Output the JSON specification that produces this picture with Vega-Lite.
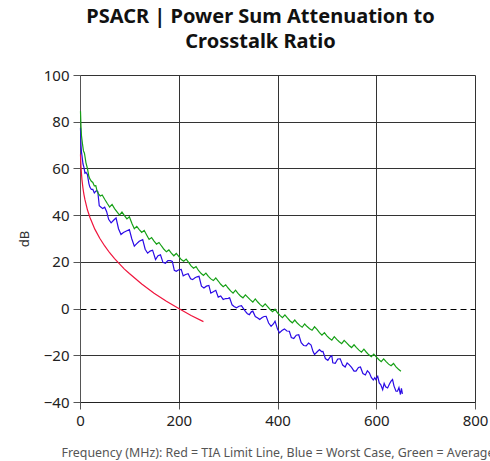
{
  "$schema": "https://vega.github.io/schema/vega-lite/v6.json",
  "width": 395,
  "height": 327,
  "autosize": {"type": "none"},
  "padding": {"left": 80, "top": 75, "right": 15, "bottom": 59},
  "background": "white",
  "config": {
    "view": {"stroke": null},
    "font": "Noto Sans"
  },
  "title": {
    "text": ["PSACR | Power Sum Attenuation to", "Crosstalk Ratio"],
    "font": "Noto Sans",
    "fontSize": 20,
    "fontWeight": "bold",
    "color": "#111",
    "anchor": "middle",
    "frame": "group",
    "dx": -17,
    "offset": 16,
    "lineHeight": 25
  },
  "datasets": {
    "red": [
      {"freq": 1, "db": 66}, {"freq": 2, "db": 60.8}, {"freq": 3, "db": 57.7}, {"freq": 4, "db": 55.1},
      {"freq": 6, "db": 51.5}, {"freq": 8, "db": 48.8}, {"freq": 10, "db": 46.6}, {"freq": 15, "db": 42.3},
      {"freq": 20, "db": 39.1}, {"freq": 30, "db": 34.0}, {"freq": 40, "db": 30.1}, {"freq": 50, "db": 26.8},
      {"freq": 60, "db": 23.9}, {"freq": 70, "db": 21.4}, {"freq": 80, "db": 19.1}, {"freq": 90, "db": 16.9},
      {"freq": 100, "db": 15.0}, {"freq": 125, "db": 10.5}, {"freq": 150, "db": 6.6}, {"freq": 175, "db": 3.1},
      {"freq": 200, "db": 0}, {"freq": 225, "db": -3.0}, {"freq": 250, "db": -5.6}
    ],
    "blue": [
      {"freq": 1, "db": 77.3}, {"freq": 2, "db": 70}, {"freq": 3, "db": 67}, {"freq": 4, "db": 65.5},
      {"freq": 6, "db": 62}, {"freq": 8, "db": 60.5}, {"freq": 10, "db": 58}, {"freq": 12, "db": 58.3},
      {"freq": 15, "db": 57.4}, {"freq": 18, "db": 53.5}, {"freq": 20, "db": 52}, {"freq": 23, "db": 51},
      {"freq": 26, "db": 51}, {"freq": 29, "db": 49.5}, {"freq": 33, "db": 50.5}, {"freq": 36, "db": 50.2},
      {"freq": 39, "db": 44}, {"freq": 42, "db": 43.5}, {"freq": 46, "db": 42.8}, {"freq": 50, "db": 43.4},
      {"freq": 54, "db": 41.5}, {"freq": 58, "db": 38.2}, {"freq": 63, "db": 36.7}, {"freq": 68, "db": 37.8},
      {"freq": 73, "db": 38.8}, {"freq": 78, "db": 34.2}, {"freq": 83, "db": 31.7}, {"freq": 88, "db": 32.6},
      {"freq": 94, "db": 33.2}, {"freq": 100, "db": 33.8}, {"freq": 105, "db": 29.8}, {"freq": 110, "db": 26.7},
      {"freq": 115, "db": 27.8}, {"freq": 120, "db": 28.8}, {"freq": 127, "db": 29.5}, {"freq": 132, "db": 25.4},
      {"freq": 137, "db": 23.7}, {"freq": 142, "db": 24.6}, {"freq": 147, "db": 25.0}, {"freq": 153, "db": 21.0},
      {"freq": 158, "db": 22.6}, {"freq": 163, "db": 23.0}, {"freq": 168, "db": 19.8}, {"freq": 173, "db": 19.4},
      {"freq": 178, "db": 20.5}, {"freq": 183, "db": 20.5}, {"freq": 187, "db": 20.2}, {"freq": 191, "db": 16.4},
      {"freq": 195, "db": 16.0}, {"freq": 200, "db": 16.6}, {"freq": 205, "db": 16.8}, {"freq": 209, "db": 14.0},
      {"freq": 214, "db": 14.6}, {"freq": 219, "db": 14.9}, {"freq": 224, "db": 12.8}, {"freq": 228, "db": 12.4},
      {"freq": 233, "db": 13.2}, {"freq": 237, "db": 13.6}, {"freq": 241, "db": 13.8}, {"freq": 246, "db": 9.6},
      {"freq": 251, "db": 8.8}, {"freq": 256, "db": 9.6}, {"freq": 261, "db": 9.9}, {"freq": 265, "db": 6.6},
      {"freq": 270, "db": 7.2}, {"freq": 275, "db": 7.8}, {"freq": 280, "db": 4.9}, {"freq": 285, "db": 5.4},
      {"freq": 290, "db": 3.9}, {"freq": 295, "db": 4.3}, {"freq": 300, "db": 4.4}, {"freq": 303, "db": 4.6},
      {"freq": 308, "db": 1.6}, {"freq": 312, "db": 0.9}, {"freq": 317, "db": 0.3}, {"freq": 322, "db": 1.0},
      {"freq": 327, "db": 1.2}, {"freq": 330, "db": 0.3}, {"freq": 335, "db": -1.2}, {"freq": 339, "db": -2.2},
      {"freq": 343, "db": -2.6}, {"freq": 347, "db": -1.4}, {"freq": 350, "db": -1.1}, {"freq": 355, "db": -3.4},
      {"freq": 360, "db": -4.0}, {"freq": 364, "db": -4.7}, {"freq": 369, "db": -3.8}, {"freq": 373, "db": -3.4},
      {"freq": 377, "db": -3.3}, {"freq": 382, "db": -6.2}, {"freq": 387, "db": -7.6}, {"freq": 392, "db": -6.5},
      {"freq": 395, "db": -5.4}, {"freq": 400, "db": -8.8}, {"freq": 404, "db": -10.4}, {"freq": 409, "db": -9.4},
      {"freq": 414, "db": -8.7}, {"freq": 419, "db": -9.6}, {"freq": 424, "db": -9.7}, {"freq": 428, "db": -12.4},
      {"freq": 433, "db": -12.8}, {"freq": 438, "db": -11.4}, {"freq": 443, "db": -11.2}, {"freq": 448, "db": -14.6},
      {"freq": 453, "db": -15.8}, {"freq": 458, "db": -16.0}, {"freq": 463, "db": -14.8}, {"freq": 468, "db": -15.6},
      {"freq": 472, "db": -18.4}, {"freq": 475, "db": -19.7}, {"freq": 480, "db": -18.6}, {"freq": 485, "db": -17.6},
      {"freq": 489, "db": -18.4}, {"freq": 492, "db": -18.3}, {"freq": 497, "db": -21.4}, {"freq": 502, "db": -22.2},
      {"freq": 507, "db": -20.6}, {"freq": 510, "db": -20.2}, {"freq": 512, "db": -23.2}, {"freq": 517, "db": -23.4},
      {"freq": 522, "db": -21.6}, {"freq": 527, "db": -21.5}, {"freq": 532, "db": -24.2}, {"freq": 537, "db": -25.0},
      {"freq": 541, "db": -23.3}, {"freq": 545, "db": -24.0}, {"freq": 550, "db": -25.2}, {"freq": 555, "db": -26.8},
      {"freq": 559, "db": -26.8}, {"freq": 564, "db": -25.2}, {"freq": 568, "db": -25.0}, {"freq": 573, "db": -27.8},
      {"freq": 578, "db": -28.4}, {"freq": 582, "db": -26.6}, {"freq": 586, "db": -27.5}, {"freq": 590, "db": -29.5},
      {"freq": 594, "db": -30.6}, {"freq": 597, "db": -29.6}, {"freq": 599, "db": -30.4}, {"freq": 603, "db": -29.0},
      {"freq": 606, "db": -31.8}, {"freq": 609, "db": -32.5}, {"freq": 613, "db": -34.7}, {"freq": 616, "db": -32.0},
      {"freq": 619, "db": -33.5}, {"freq": 623, "db": -34.0}, {"freq": 627, "db": -32.2}, {"freq": 630, "db": -31.1},
      {"freq": 633, "db": -30.4}, {"freq": 636, "db": -33.2}, {"freq": 640, "db": -35.4}, {"freq": 643, "db": -35.4},
      {"freq": 646, "db": -33.8}, {"freq": 649, "db": -36.8}, {"freq": 651, "db": -34.2}, {"freq": 653, "db": -36.5}
    ],
    "green": [
      {"freq": 1, "db": 84.5}, {"freq": 2, "db": 78}, {"freq": 3, "db": 74}, {"freq": 5, "db": 70.5},
      {"freq": 7, "db": 67.5}, {"freq": 9, "db": 66.5}, {"freq": 12, "db": 62.5}, {"freq": 15, "db": 60},
      {"freq": 18, "db": 56.5}, {"freq": 20, "db": 55.5}, {"freq": 23, "db": 54.5}, {"freq": 26, "db": 54},
      {"freq": 29, "db": 52.5}, {"freq": 32, "db": 52.6}, {"freq": 35, "db": 50}, {"freq": 38, "db": 49},
      {"freq": 41, "db": 48.2}, {"freq": 45, "db": 48.6}, {"freq": 50, "db": 46.8}, {"freq": 55, "db": 45.1},
      {"freq": 60, "db": 43.5}, {"freq": 65, "db": 44.6}, {"freq": 70, "db": 42.8}, {"freq": 75, "db": 41.4},
      {"freq": 80, "db": 40}, {"freq": 85, "db": 41.3}, {"freq": 90, "db": 39.8}, {"freq": 95, "db": 38.4},
      {"freq": 100, "db": 39.3}, {"freq": 105, "db": 36.5}, {"freq": 110, "db": 34.2}, {"freq": 115, "db": 35.2},
      {"freq": 120, "db": 33.8}, {"freq": 125, "db": 32.6}, {"freq": 130, "db": 33.5}, {"freq": 135, "db": 31.5},
      {"freq": 140, "db": 29.6}, {"freq": 145, "db": 30.4}, {"freq": 150, "db": 28.9}, {"freq": 155, "db": 27.6},
      {"freq": 160, "db": 28.3}, {"freq": 165, "db": 26.8}, {"freq": 170, "db": 25.4}, {"freq": 175, "db": 24.3},
      {"freq": 180, "db": 25.1}, {"freq": 185, "db": 23.7}, {"freq": 190, "db": 22.6}, {"freq": 195, "db": 23.6},
      {"freq": 200, "db": 22.3}, {"freq": 205, "db": 21.0}, {"freq": 210, "db": 20.3}, {"freq": 215, "db": 21.2},
      {"freq": 220, "db": 19.8}, {"freq": 225, "db": 18.3}, {"freq": 230, "db": 17.3}, {"freq": 235, "db": 18.0},
      {"freq": 240, "db": 16.3}, {"freq": 245, "db": 15.1}, {"freq": 250, "db": 14.2}, {"freq": 255, "db": 15.2},
      {"freq": 260, "db": 13.8}, {"freq": 265, "db": 12.7}, {"freq": 270, "db": 12.0}, {"freq": 275, "db": 13.1},
      {"freq": 280, "db": 11.8}, {"freq": 285, "db": 10.4}, {"freq": 290, "db": 9.4}, {"freq": 295, "db": 10.2},
      {"freq": 300, "db": 8.8}, {"freq": 305, "db": 7.6}, {"freq": 310, "db": 6.6}, {"freq": 315, "db": 7.9},
      {"freq": 320, "db": 6.5}, {"freq": 325, "db": 5.4}, {"freq": 330, "db": 4.6}, {"freq": 335, "db": 5.9},
      {"freq": 340, "db": 4.8}, {"freq": 345, "db": 3.7}, {"freq": 350, "db": 2.8}, {"freq": 355, "db": 4.1},
      {"freq": 360, "db": 2.8}, {"freq": 365, "db": 1.7}, {"freq": 370, "db": 0.8}, {"freq": 375, "db": 2.0},
      {"freq": 380, "db": 0.8}, {"freq": 385, "db": -0.4}, {"freq": 390, "db": -1.3}, {"freq": 395, "db": -0.3},
      {"freq": 400, "db": -1.8}, {"freq": 405, "db": -2.9}, {"freq": 410, "db": -3.9}, {"freq": 415, "db": -2.7},
      {"freq": 420, "db": -4.0}, {"freq": 425, "db": -5.2}, {"freq": 430, "db": -6.1}, {"freq": 435, "db": -4.9},
      {"freq": 440, "db": -6.2}, {"freq": 445, "db": -7.2}, {"freq": 450, "db": -8.0}, {"freq": 455, "db": -6.6},
      {"freq": 460, "db": -7.7}, {"freq": 465, "db": -8.6}, {"freq": 470, "db": -9.3}, {"freq": 475, "db": -7.8},
      {"freq": 480, "db": -8.9}, {"freq": 485, "db": -10.3}, {"freq": 490, "db": -11.4}, {"freq": 495, "db": -10.3},
      {"freq": 500, "db": -11.7}, {"freq": 505, "db": -12.7}, {"freq": 510, "db": -13.5}, {"freq": 515, "db": -12.0},
      {"freq": 520, "db": -13.2}, {"freq": 525, "db": -14.2}, {"freq": 530, "db": -15.0}, {"freq": 535, "db": -13.6},
      {"freq": 540, "db": -14.7}, {"freq": 545, "db": -15.8}, {"freq": 550, "db": -16.7}, {"freq": 555, "db": -15.5},
      {"freq": 560, "db": -16.7}, {"freq": 565, "db": -17.8}, {"freq": 570, "db": -18.7}, {"freq": 575, "db": -17.4},
      {"freq": 580, "db": -18.7}, {"freq": 585, "db": -19.8}, {"freq": 590, "db": -20.6}, {"freq": 595, "db": -19.5},
      {"freq": 600, "db": -20.7}, {"freq": 605, "db": -21.8}, {"freq": 610, "db": -22.7}, {"freq": 615, "db": -21.5},
      {"freq": 620, "db": -22.7}, {"freq": 625, "db": -23.8}, {"freq": 630, "db": -24.5}, {"freq": 635, "db": -23.5},
      {"freq": 640, "db": -25.0}, {"freq": 645, "db": -26.0}, {"freq": 650, "db": -26.8}
    ]
  },
  "encoding": {
    "x": {
      "field": "freq",
      "type": "quantitative",
      "scale": {"domain": [0, 800], "nice": false, "zero": false},
      "axis": {
        "values": [0, 200, 400, 600, 800],
        "title": "Frequency (MHz): Red = TIA Limit Line, Blue = Worst Case, Green = Average",
        "titleFont": "Noto Sans",
        "titleFontSize": 12.4,
        "titleFontWeight": "normal",
        "titleColor": "#555",
        "titlePadding": 18,
        "labelFont": "Noto Sans",
        "labelFontSize": 15,
        "labelColor": "#222",
        "labelPadding": 4,
        "labelFlush": false,
        "grid": true,
        "gridColor": "#333",
        "gridWidth": 1,
        "domainColor": "#222",
        "tickColor": "#555",
        "tickSize": 7
      }
    },
    "y": {
      "field": "db",
      "type": "quantitative",
      "scale": {"domain": [-40, 100], "nice": false, "zero": false},
      "axis": {
        "values": [-40, -20, 0, 20, 40, 60, 80, 100],
        "title": "dB",
        "titleFont": "Noto Sans",
        "titleFontSize": 13,
        "titleFontWeight": "normal",
        "titleColor": "#333",
        "titlePadding": 12,
        "labelFont": "Noto Sans",
        "labelFontSize": 15,
        "labelColor": "#222",
        "labelPadding": 4,
        "labelFlush": false,
        "grid": true,
        "gridColor": {"condition": {"test": "datum.value === 0", "value": "#000"}, "value": "#333"},
        "gridDash": {"condition": {"test": "datum.value === 0", "value": [6, 4]}, "value": []},
        "gridWidth": 1,
        "domainColor": "#555",
        "tickColor": "#555",
        "tickSize": 7
      }
    }
  },
  "layer": [
    {
      "data": {"name": "red"},
      "mark": {"type": "line", "color": "#f0143c", "strokeWidth": 1.2}
    },
    {
      "data": {"name": "blue"},
      "mark": {"type": "line", "color": "#2a0ae6", "strokeWidth": 1.2}
    },
    {
      "data": {"name": "green"},
      "mark": {"type": "line", "color": "#16a016", "strokeWidth": 1.2}
    }
  ]
}
